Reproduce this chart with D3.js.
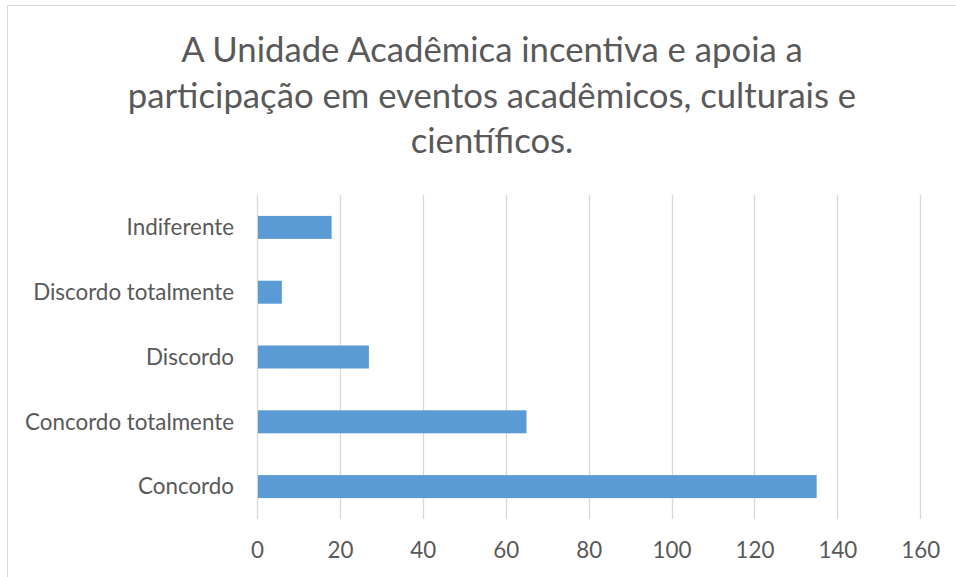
<!DOCTYPE html>
<html>
<head>
<meta charset="utf-8">
<script src="https://cdn.jsdelivr.net/npm/d3@7"></script>
<style>
  html, body { margin: 0; padding: 0; background: #fff; }
  svg { display: block; }
  text { font-family: Lato, "Open Sans", sans-serif; fill: #595959; }
</style>
</head>
<body>
<svg id="chart" width="956" height="577"></svg>
<script>
const titleLines = ["A Unidade Acadêmica incentiva e apoia a", "participação em eventos acadêmicos, culturais e", "científicos."];
const categories = ["Indiferente", "Discordo totalmente", "Discordo", "Concordo totalmente", "Concordo"];
const values = [18, 6, 27, 65, 135];
const xTicks = [0, 20, 40, 60, 80, 100, 120, 140, 160];

const W = 956, H = 577;
const svg = d3.select("#chart");

// outer border
svg.append("rect").attr("x", 7.5).attr("y", 5.5).attr("width", W).attr("height", H)
  .attr("fill", "none").attr("stroke", "#d9d9d9").attr("stroke-width", 1);

const plot = { left: 257, right: 920.3, top: 195, bottom: 519 };

const x = d3.scaleLinear().domain([0, 160]).range([plot.left, plot.right]);
const y = d3.scaleBand().domain(categories).range([plot.top, plot.bottom])
  .paddingInner(0.645).paddingOuter(0.3225);

// gridlines
svg.append("g").selectAll("line").data(xTicks).join("line")
  .attr("x1", d => Math.round(x(d)) + 0.5).attr("x2", d => Math.round(x(d)) + 0.5)
  .attr("y1", plot.top).attr("y2", plot.bottom)
  .attr("stroke", "#d9d9d9").attr("stroke-width", 1.3);

// bars
svg.append("g").selectAll("rect").data(categories).join("rect")
  .attr("x", x(0) + 1)
  .attr("y", d => y(d))
  .attr("width", (d, i) => x(values[i]) - x(0) - 1)
  .attr("height", y.bandwidth())
  .attr("fill", "#5b9bd5");

// x axis labels
const xAxis = d3.axisBottom(x).tickValues(xTicks).tickSize(0).tickPadding(0);
const gx = svg.append("g").attr("transform", `translate(0, ${plot.bottom})`).call(xAxis);
gx.select(".domain").remove();
gx.selectAll("text").attr("font-size", 20).attr("dy", null).attr("y", 39)
  .attr("fill", "#595959").style("font-family", "Lato, sans-serif");

// y axis labels
const yAxis = d3.axisLeft(y).tickSize(0).tickPadding(0);
const gy = svg.append("g").attr("transform", `translate(234, 0)`).call(yAxis);
gy.select(".domain").remove();
gy.selectAll("text").attr("font-size", 20).attr("dy", "0.35em")
  .attr("fill", "#595959").style("font-family", "Lato, sans-serif");

let maxW = 0;
gy.selectAll("text").each(function() { maxW = Math.max(maxW, this.getComputedTextLength()); });
const lblSize = 20 * 209 / maxW;
gy.selectAll("text").attr("font-size", lblSize);
gx.selectAll("text").attr("font-size", lblSize);

// title
const title = svg.append("g");
const baselines = [62, 107.5, 153];
title.selectAll("text").data(titleLines).join("text")
  .attr("x", 492).attr("y", (d, i) => baselines[i])
  .attr("text-anchor", "middle").attr("font-size", 37)
  .text(d => d);
const t0 = title.select("text").node().getComputedTextLength();
title.selectAll("text").attr("font-size", 37 * 622 / t0);
</script>
</body>
</html>
